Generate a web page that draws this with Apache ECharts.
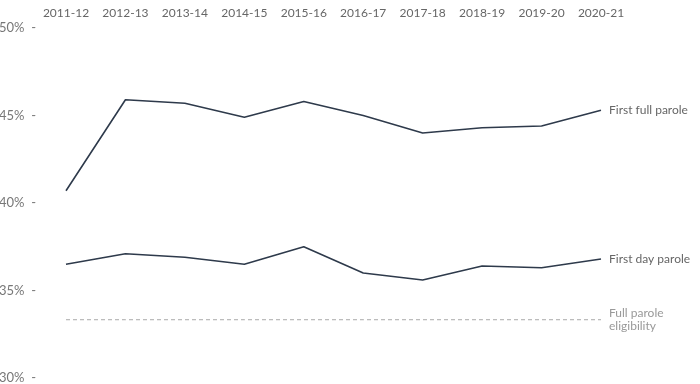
<!DOCTYPE html>
<html><head><meta charset="utf-8">
<script src="https://cdn.jsdelivr.net/npm/echarts@6/dist/echarts.min.js"></script>
<style>html,body{margin:0;padding:0;background:#fff}#c{width:700px;height:384px}</style>
</head><body><div id="c"></div>
<script>
var categories = ['2011-12','2012-13','2013-14','2014-15','2015-16','2016-17','2017-18','2018-19','2019-20','2020-21'];
var firstFullParole = [40.7, 45.9, 45.7, 44.9, 45.8, 45.0, 44.0, 44.3, 44.4, 45.3];
var firstDayParole = [36.5, 37.1, 36.9, 36.5, 37.5, 36.0, 35.6, 36.4, 36.3, 36.8];
var eligibility = [33.33, 33.33, 33.33, 33.33, 33.33, 33.33, 33.33, 33.33, 33.33, 33.33];
var yTicks = [30, 35, 40, 45, 50];

var font = 'Lato';
var chart = echarts.init(document.getElementById('c'));
function lineSeries(name, data, color, dashed, labelText) {
  return {
    name: name, type: 'line', data: data, symbol: 'none', silent: true,
    lineStyle: { color: color, width: dashed ? 1 : 1.6, type: dashed ? [4, 3] : 'solid' },
    endLabel: { show: true, formatter: labelText, color: dashed ? '#999' : '#666',
      fontFamily: font, fontSize: 12, distance: 8, lineHeight: 13 },
    emphasis: { disabled: true }, animation: false
  };
}
chart.setOption({
  animation: false,
  grid: { left: 66, right: 99, top: 28, bottom: 6, containLabel: false, outerBoundsMode: 'none' },
  xAxis: {
    type: 'category', data: categories, position: 'top', boundaryGap: false,
    axisLine: { show: false }, axisTick: { show: false },
    axisLabel: { color: '#666', fontFamily: font, fontSize: 12, margin: 9, interval: 0 }
  },
  yAxis: {
    type: 'value', min: yTicks[0], max: yTicks[yTicks.length - 1], interval: 5,
    axisLine: { show: false }, axisTick: { show: false }, splitLine: { show: false },
    axisLabel: { color: '#777', fontFamily: font, fontSize: 13, margin: 30,
      formatter: function (v) { return v + '%  -'; } }
  },
  series: [
    lineSeries('First full parole', firstFullParole, '#2e3a4b', false, 'First full parole'),
    lineSeries('First day parole', firstDayParole, '#2e3a4b', false, 'First day parole'),
    lineSeries('Full parole eligibility', eligibility, '#aaa', true, 'Full parole\neligibility')
  ]
});
</script></body></html>
